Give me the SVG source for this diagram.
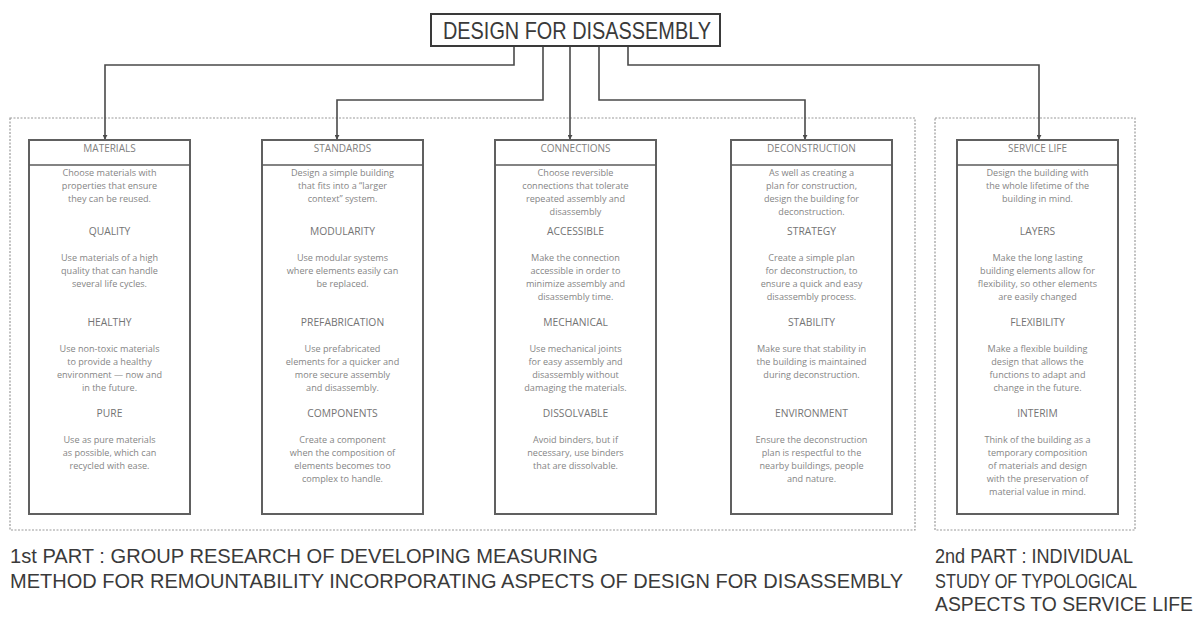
<svg xmlns="http://www.w3.org/2000/svg" width="1203" height="621" viewBox="0 0 1203 621">
<style>
.bg{fill:#fff}
.frame{fill:none;stroke:#9a9a9a;stroke-width:1.2;stroke-dasharray:2 1.5}
.box{fill:#fff;stroke:#606060;stroke-width:2}
.hline{stroke:#5a5a5a;stroke-width:1.5}
.conn{fill:none;stroke:#4a4a4a;stroke-width:1.6}
.hd{font-family:"Open Sans","DejaVu Sans",sans-serif;font-size:10px;fill:#808080;text-anchor:middle}
.sub{font-family:"Open Sans","DejaVu Sans",sans-serif;font-size:10.3px;fill:#747474;text-anchor:middle}
.body{font-family:"Open Sans","DejaVu Sans",sans-serif;font-size:9.1px;fill:#858585;text-anchor:middle}
.big{font-family:"Liberation Sans","DejaVu Sans",sans-serif;font-size:20px;fill:#3a3a3a}
</style>
<defs>
<marker id="arr" viewBox="0 0 6 6" refX="5" refY="3" markerWidth="5" markerHeight="5" orient="auto" markerUnits="userSpaceOnUse">
<path d="M0,0 L6,3 L0,6 z" fill="#4a4a4a"/>
</marker>
</defs>
<rect class="bg" x="0" y="0" width="1203" height="621"/>

<rect class="frame" x="10" y="118" width="905" height="412"/>
<rect class="frame" x="935" y="118" width="200" height="412"/>

<g id="connectors">
<path class="conn" d="M514,46 V65 H105 V139" marker-end="url(#arr)"/>
<path class="conn" d="M543,46 V100 H337 V139" marker-end="url(#arr)"/>
<path class="conn" d="M570,46 V139" marker-end="url(#arr)"/>
<path class="conn" d="M599,46 V100 H805 V139" marker-end="url(#arr)"/>
<path class="conn" d="M628,46 V65 H1039 V139" marker-end="url(#arr)"/>
</g>

<g id="root">
<rect x="431" y="14" width="289" height="32" fill="#fff" stroke="#3a3a3a" stroke-width="2"/>
<text x="443" y="38.5" font-family="Liberation Sans, DejaVu Sans, sans-serif" font-size="24" fill="#3a3a3a" textLength="268" lengthAdjust="spacingAndGlyphs">DESIGN FOR DISASSEMBLY</text>
</g>

<g id="materials">
<rect class="box" x="29" y="140" width="161" height="374"/>
<line class="hline" x1="29" y1="165" x2="190" y2="165"/>
<text class="hd" x="109.5" y="152">MATERIALS</text>
<text class="body" y="176"><tspan x="109.5">Choose materials with</tspan><tspan x="109.5" dy="13">properties that ensure</tspan><tspan x="109.5" dy="13">they can be reused.</tspan></text>
<text class="sub" x="109.5" y="235">QUALITY</text>
<text class="body" y="261"><tspan x="109.5">Use materials of a high</tspan><tspan x="109.5" dy="13">quality that can handle</tspan><tspan x="109.5" dy="13">several life cycles.</tspan></text>
<text class="sub" x="109.5" y="326">HEALTHY</text>
<text class="body" y="352"><tspan x="109.5">Use non-toxic materials</tspan><tspan x="109.5" dy="13">to provide a healthy</tspan><tspan x="109.5" dy="13">environment — now and</tspan><tspan x="109.5" dy="13">in the future.</tspan></text>
<text class="sub" x="109.5" y="417">PURE</text>
<text class="body" y="443"><tspan x="109.5">Use as pure materials</tspan><tspan x="109.5" dy="13">as possible, which can</tspan><tspan x="109.5" dy="13">recycled with ease.</tspan></text>
</g>

<g id="standards">
<rect class="box" x="262" y="140" width="161" height="374"/>
<line class="hline" x1="262" y1="165" x2="423" y2="165"/>
<text class="hd" x="342.5" y="152">STANDARDS</text>
<text class="body" y="176"><tspan x="342.5">Design a simple building</tspan><tspan x="342.5" dy="13">that fits into a “larger</tspan><tspan x="342.5" dy="13">context” system.</tspan></text>
<text class="sub" x="342.5" y="235">MODULARITY</text>
<text class="body" y="261"><tspan x="342.5">Use modular systems</tspan><tspan x="342.5" dy="13">where elements easily can</tspan><tspan x="342.5" dy="13">be replaced.</tspan></text>
<text class="sub" x="342.5" y="326">PREFABRICATION</text>
<text class="body" y="352"><tspan x="342.5">Use prefabricated</tspan><tspan x="342.5" dy="13">elements for a quicker and</tspan><tspan x="342.5" dy="13">more secure assembly</tspan><tspan x="342.5" dy="13">and disassembly.</tspan></text>
<text class="sub" x="342.5" y="417">COMPONENTS</text>
<text class="body" y="443"><tspan x="342.5">Create a component</tspan><tspan x="342.5" dy="13">when the composition of</tspan><tspan x="342.5" dy="13">elements becomes too</tspan><tspan x="342.5" dy="13">complex to handle.</tspan></text>
</g>

<g id="connections">
<rect class="box" x="495" y="140" width="161" height="374"/>
<line class="hline" x1="495" y1="165" x2="656" y2="165"/>
<text class="hd" x="575.5" y="152">CONNECTIONS</text>
<text class="body" y="176"><tspan x="575.5">Choose reversible</tspan><tspan x="575.5" dy="13">connections that tolerate</tspan><tspan x="575.5" dy="13">repeated assembly and</tspan><tspan x="575.5" dy="13">disassembly</tspan></text>
<text class="sub" x="575.5" y="235">ACCESSIBLE</text>
<text class="body" y="261"><tspan x="575.5">Make the connection</tspan><tspan x="575.5" dy="13">accessible in order to</tspan><tspan x="575.5" dy="13">minimize assembly and</tspan><tspan x="575.5" dy="13">disassembly time.</tspan></text>
<text class="sub" x="575.5" y="326">MECHANICAL</text>
<text class="body" y="352"><tspan x="575.5">Use mechanical joints</tspan><tspan x="575.5" dy="13">for easy assembly and</tspan><tspan x="575.5" dy="13">disassembly without</tspan><tspan x="575.5" dy="13">damaging the materials.</tspan></text>
<text class="sub" x="575.5" y="417">DISSOLVABLE</text>
<text class="body" y="443"><tspan x="575.5">Avoid binders, but if</tspan><tspan x="575.5" dy="13">necessary, use binders</tspan><tspan x="575.5" dy="13">that are dissolvable.</tspan></text>
</g>

<g id="deconstruction">
<rect class="box" x="731" y="140" width="161" height="374"/>
<line class="hline" x1="731" y1="165" x2="892" y2="165"/>
<text class="hd" x="811.5" y="152">DECONSTRUCTION</text>
<text class="body" y="176"><tspan x="811.5">As well as creating a</tspan><tspan x="811.5" dy="13">plan for construction,</tspan><tspan x="811.5" dy="13">design the building for</tspan><tspan x="811.5" dy="13">deconstruction.</tspan></text>
<text class="sub" x="811.5" y="235">STRATEGY</text>
<text class="body" y="261"><tspan x="811.5">Create a simple plan</tspan><tspan x="811.5" dy="13">for deconstruction, to</tspan><tspan x="811.5" dy="13">ensure a quick and easy</tspan><tspan x="811.5" dy="13">disassembly process.</tspan></text>
<text class="sub" x="811.5" y="326">STABILITY</text>
<text class="body" y="352"><tspan x="811.5">Make sure that stability in</tspan><tspan x="811.5" dy="13">the building is maintained</tspan><tspan x="811.5" dy="13">during deconstruction.</tspan></text>
<text class="sub" x="811.5" y="417">ENVIRONMENT</text>
<text class="body" y="443"><tspan x="811.5">Ensure the deconstruction</tspan><tspan x="811.5" dy="13">plan is respectful to the</tspan><tspan x="811.5" dy="13">nearby buildings, people</tspan><tspan x="811.5" dy="13">and nature.</tspan></text>
</g>

<g id="service-life">
<rect class="box" x="957" y="140" width="161" height="374"/>
<line class="hline" x1="957" y1="165" x2="1118" y2="165"/>
<text class="hd" x="1037.5" y="152">SERVICE LIFE</text>
<text class="body" y="176"><tspan x="1037.5">Design the building with</tspan><tspan x="1037.5" dy="13">the whole lifetime of the</tspan><tspan x="1037.5" dy="13">building in mind.</tspan></text>
<text class="sub" x="1037.5" y="235">LAYERS</text>
<text class="body" y="261"><tspan x="1037.5">Make the long lasting</tspan><tspan x="1037.5" dy="13">building elements allow for</tspan><tspan x="1037.5" dy="13">flexibility, so other elements</tspan><tspan x="1037.5" dy="13">are easily changed</tspan></text>
<text class="sub" x="1037.5" y="326">FLEXIBILITY</text>
<text class="body" y="352"><tspan x="1037.5">Make a flexible building</tspan><tspan x="1037.5" dy="13">design that allows the</tspan><tspan x="1037.5" dy="13">functions to adapt and</tspan><tspan x="1037.5" dy="13">change in the future.</tspan></text>
<text class="sub" x="1037.5" y="417">INTERIM</text>
<text class="body" y="443"><tspan x="1037.5">Think of the building as a</tspan><tspan x="1037.5" dy="13">temporary composition</tspan><tspan x="1037.5" dy="13">of materials and design</tspan><tspan x="1037.5" dy="13">with the preservation of</tspan><tspan x="1037.5" dy="13">material value in mind.</tspan></text>
</g>

<g id="captions">
<text class="big" x="10" y="563" textLength="588" lengthAdjust="spacingAndGlyphs">1st PART : GROUP RESEARCH OF DEVELOPING MEASURING</text>
<text class="big" x="10" y="588" textLength="893" lengthAdjust="spacingAndGlyphs">METHOD FOR REMOUNTABILITY INCORPORATING ASPECTS OF DESIGN FOR DISASSEMBLY</text>
<text class="big" x="935" y="563" textLength="198" lengthAdjust="spacingAndGlyphs">2nd PART : INDIVIDUAL</text>
<text class="big" x="935" y="588" textLength="202" lengthAdjust="spacingAndGlyphs">STUDY OF TYPOLOGICAL</text>
<text class="big" x="935" y="611" textLength="258" lengthAdjust="spacingAndGlyphs">ASPECTS TO SERVICE LIFE</text>
</g>
</svg>
